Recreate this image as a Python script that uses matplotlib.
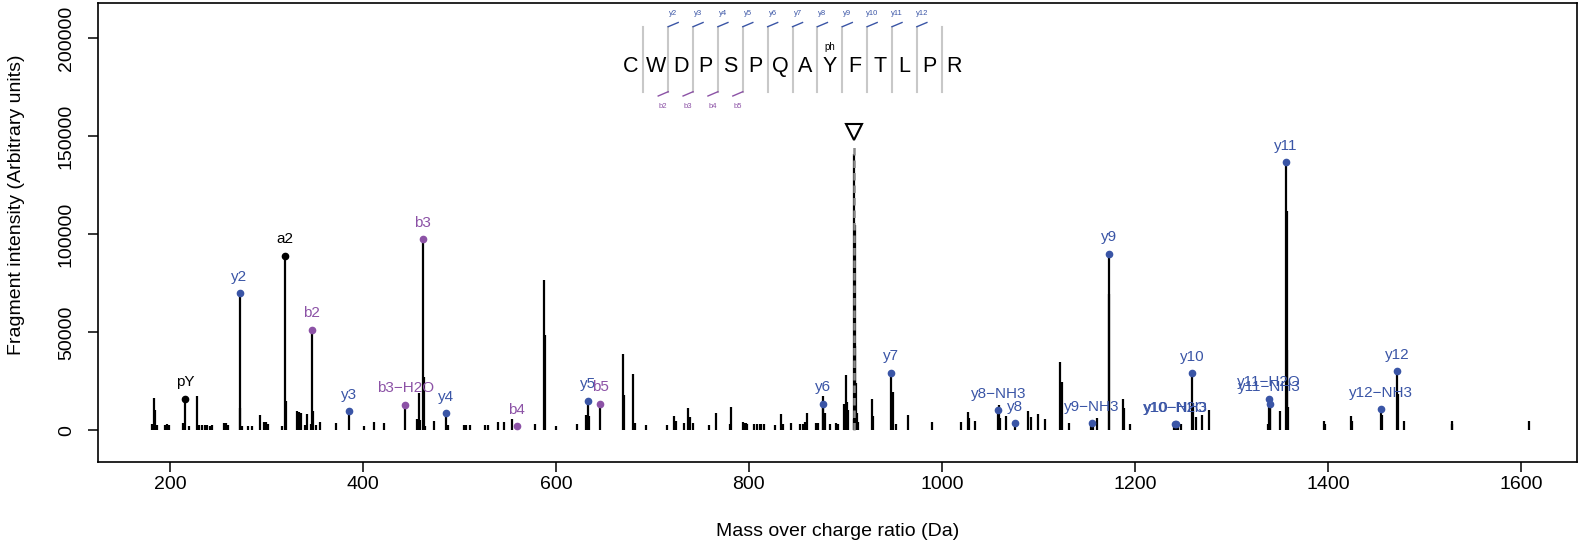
import matplotlib
matplotlib.use("Agg")
import matplotlib.pyplot as plt

plt.rcParams['font.family'] = ['Liberation Sans', 'DejaVu Sans']

# Peak list (m/z, intensity)
peak_mz = [181.5, 183.5, 185.0, 186.5, 195.0, 197.0, 199.0, 213.5, 216.0, 219.9,
           227.9, 230.5, 233.0, 236.0, 239.0, 241.5, 244.0, 256.0, 258.0, 260.0,
           272.2, 272.9, 275.0, 281.0, 285.5, 293.5, 298.0, 300.0, 302.0, 316.0,
           319.1, 320.2, 331.7, 333.9, 335.5, 340.0, 342.4, 346.0, 347.1, 348.2,
           351.0, 355.8, 372.4, 385.3, 401.3, 411.7, 422.4, 444.1, 455.8, 457.7,
           459.5, 462.1, 463.0, 464.5, 473.6, 486.3, 488.0, 504.7, 507.0, 511.0,
           526.5, 530.0, 539.9, 546.0, 554.5, 559.2, 578.8, 588.1, 588.8, 599.8,
           622.0, 630.7, 631.8, 633.4, 634.7, 646.2, 669.6, 670.5, 680.0, 681.5,
           693.0, 715.0, 722.2, 724.0, 732.6, 737.0, 738.9, 741.9, 759.0, 766.0,
           780.0, 781.9, 793.7, 795.5, 797.4, 798.5, 805.0, 808.0, 811.0, 813.0,
           816.0, 827.0, 833.7, 835.6, 843.7, 853.0, 855.6, 857.8, 860.4, 869.7,
           871.5, 876.4, 877.1, 878.6, 883.8, 890.0, 892.0, 898.6, 900.4, 901.9,
           903.0, 908.5, 909.4, 909.9, 910.4, 911.0, 912.5, 913.5, 927.1, 928.2,
           947.5, 948.9, 951.9, 964.9, 990.0, 1019.7, 1027.1, 1028.2, 1033.8, 1058.5,
           1059.2, 1060.5, 1066.0, 1075.5, 1089.0, 1092.7, 1099.4, 1106.8, 1122.7, 1124.1,
           1132.0, 1154.0, 1155.5, 1156.5, 1160.8, 1172.6, 1173.5, 1187.6, 1189.0, 1195.0,
           1240.5, 1241.6, 1242.6, 1244.5, 1248.0, 1259.6, 1260.3, 1263.4, 1269.7, 1277.1,
           1337.5, 1338.6, 1339.6, 1340.2, 1349.8, 1356.6, 1357.3, 1358.0, 1359.0, 1396.0,
           1396.6, 1423.9, 1425.0, 1454.7, 1455.5, 1471.7, 1472.5, 1478.3, 1528.3, 1529.0,
           1608.0]
peak_int = [3000, 16700, 10500, 2500, 2800, 3000, 2500, 3500, 16060, 2300,
            17600, 2500, 2800, 2500, 2700, 2400, 2500, 3800, 3500, 2500,
            69900, 11400, 2000, 2200, 2200, 7860, 4000, 4500, 3000, 2200,
            89100, 15200, 10000, 9400, 8900, 2800, 8500, 3000, 51300, 9900,
            2500, 4200, 3500, 9840, 2200, 4200, 3500, 12950, 5900, 18900,
            5500, 97400, 27300, 2200, 4700, 8800, 2500, 2700, 2500, 2500,
            2700, 2500, 4200, 4200, 5900, 2070, 3300, 76700, 48600, 2200,
            3000, 8000, 8000, 15000, 7200, 13470, 39000, 18000, 28900, 3800,
            2700, 2700, 7500, 4700, 3800, 11400, 6900, 3800, 2700, 8900,
            3000, 11900, 4000, 3500, 3600, 3000, 3000, 3000, 3000, 3000,
            3000, 2700, 8500, 3000, 3800, 3000, 3000, 4200, 8900, 3800,
            3800, 13470, 17500, 8900, 3300, 3500, 3000, 13500, 28400, 14700,
            10500, 5800, 141000, 105000, 43000, 24000, 9000, 4000, 15900, 7200,
            29500, 19400, 3000, 8000, 4200, 4200, 9200, 6300, 4700, 10360,
            13000, 6300, 7500, 3630, 9700, 6800, 8500, 5800, 35000, 24700,
            3800, 3000, 3630, 3500, 6300, 90150, 69400, 15900, 11400, 3000,
            3000, 3100, 3100, 3000, 3000, 29000, 14000, 6800, 8000, 10600,
            3000, 16060, 13500, 14800, 9700, 136800, 111900, 41000, 12000, 4600,
            3000, 7500, 4600, 10880, 8000, 30050, 18300, 4600, 4600, 3000,
            4600]

# Matched fragment ions
ion_label = ['pY', 'y2', 'a2', 'b2', 'y3', 'b3\u2212H2O', 'b3', 'y4', 'b4', 'y5', 'b5',
             'y6', 'y7', 'y8\u2212NH3', 'y8', 'y9\u2212NH3', 'y9', 'y10\u2212H2O', 'y10\u2212NH3',
             'y10', 'y11\u2212H2O', 'y11\u2212NH3', 'y11', 'y12\u2212NH3', 'y12']
ion_mz = [216.0, 272.2, 319.1, 347.1, 385.3, 444.1, 462.1, 486.3, 559.2, 633.4, 646.2,
          876.4, 947.5, 1058.5, 1075.5, 1155.5, 1172.6, 1241.6, 1242.6,
          1259.6, 1338.6, 1339.6, 1356.6, 1454.7, 1471.7]
ion_int = [16060, 69900, 89100, 51300, 9840, 12950, 97400, 8800, 2070, 15000, 13470,
           13470, 29500, 10360, 3630, 3630, 90150, 3100, 3100,
           29000, 16060, 13500, 136800, 10880, 30050]
ion_type = ['o', 'y', 'o', 'b', 'y', 'b', 'b', 'y', 'b', 'y', 'b',
            'y', 'y', 'y', 'y', 'y', 'y', 'y', 'y',
            'y', 'y', 'y', 'y', 'y', 'y']

precursor_mz = 909.4
precursor_int = 146000

sequence = "CWDPSPQAYFTLPR"
y_names = ['y%d' % n for n in range(2, 13)]
b_names = ['b%d' % n for n in range(2, 6)]
mod_pos = 8  # phospho on Y

colors = {'y': '#3A55A6', 'b': '#8C52A6', 'o': 'black'}

W, H = 1591, 546
fig = plt.figure(figsize=(W / 100, H / 100), dpi=100)
ax = fig.add_axes([98.4 / W, 1 - 461.7 / H, (1577 - 98.4) / W, (461.7 - 3) / H])

ax.vlines(peak_mz, 0, peak_int, colors='black', lw=1.6)

# precursor
ax.vlines(precursor_mz, 0, precursor_int, colors='#8a8a8a', linestyles=(0, (3, 2)), lw=1.8)
ax.plot([precursor_mz], [152000], marker='v', ms=11, mfc='white', mec='black', mew=1.5)

for lab, mz, it, t in zip(ion_label, ion_mz, ion_int, ion_type):
    c = colors[t]
    ax.plot([mz], [it], 'o', ms=4.5, color=c)
    ax.annotate(lab, (mz, it), xytext=(0, 9), textcoords='offset points',
                ha='center', va='baseline', fontsize=11, color=c)

ax.set_xlim(126, 1658)
ax.set_ylim(-16000, 218000)
ax.set_xticks(range(200, 1601, 200))
ax.set_yticks(range(0, 200001, 50000))
ax.tick_params(axis='both', labelsize=14, length=7, width=1.1, color='black')
ax.tick_params(axis='x', pad=3)
ax.tick_params(axis='y', labelrotation=90, pad=10)
plt.setp(ax.get_yticklabels(), va='center')
for s in ax.spines.values():
    s.set_linewidth(1.2)

fig.text(17 / W, 1 - 205 / H, 'Fragment intensity (Arbitrary units)', rotation=90,
         ha='center', va='center', fontsize=14)
fig.text(838 / W, 1 - 531 / H, 'Mass over charge ratio (Da)',
         ha='center', va='center', fontsize=14)

# peptide sequence overlay, drawn in pixel coordinates
ov = fig.add_axes([0, 0, 1, 1], facecolor='none')
ov.set_xlim(0, W)
ov.set_ylim(H, 0)
ov.axis('off')

step = 24.87
x0 = 630.9
for i, aa in enumerate(sequence):
    ov.text(x0 + i * step, 66.7, aa, ha='center', va='center', fontsize=15.5)
for i in range(len(sequence) - 1):
    sx = x0 + (i + 0.5) * step
    ov.plot([sx, sx], [26.7, 91.7], color='#C8C8C8', lw=1.5)
for k, name in enumerate(y_names):
    sx = x0 + (k + 1.5) * step
    ov.plot([sx, sx + 10], [26.7, 22.5], color=colors['y'], lw=1)
    ov.text(sx + 5, 13.3, name, ha='center', va='center', fontsize=5.5, color=colors['y'])
for k, name in enumerate(b_names):
    sx = x0 + (k + 1.5) * step
    ov.plot([sx, sx - 10], [91.7, 96], color=colors['b'], lw=1)
    ov.text(sx - 5, 106.7, name, ha='center', va='center', fontsize=5.5, color=colors['b'])
ov.text(x0 + mod_pos * step, 47.5, 'ph', ha='center', va='center', fontsize=7)

fig.savefig('out.png', dpi=100)
